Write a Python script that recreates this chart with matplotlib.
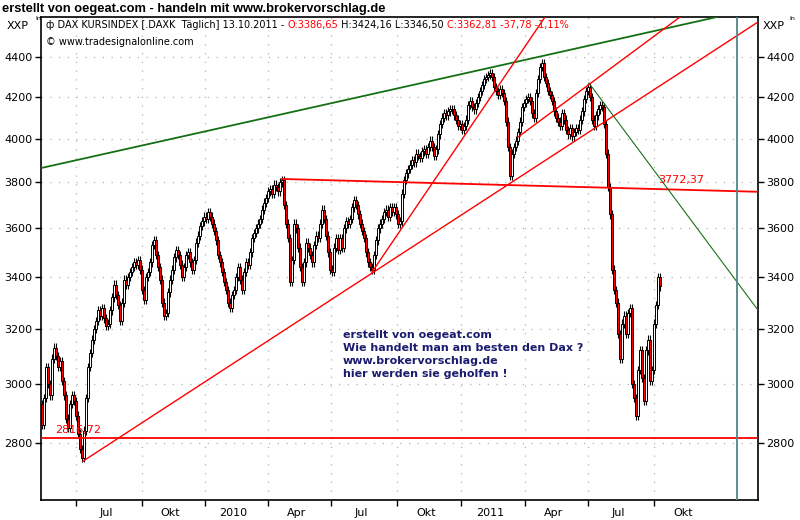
import numpy as np
import pandas as pd
import matplotlib
matplotlib.use("Agg")
import matplotlib.pyplot as plt
from matplotlib.ticker import FixedLocator, NullLocator, NullFormatter, FixedFormatter

# Schlusskurse DAX Kursindex, ein Wert je zwei Handelstage ab 14.05.2009
closes = [
    2860, 2950, 3060, 3000, 2960, 3090, 3130, 3100, 3060, 3080,
    3010, 2960, 2880, 2850, 2930, 2960, 2940, 2890, 2830, 2780,
    2750, 2840, 2950, 3060, 3110, 3160, 3200, 3230, 3270, 3250,
    3280, 3240, 3210, 3220, 3270, 3320, 3370, 3330, 3290, 3230,
    3300, 3390, 3370, 3400, 3420, 3440, 3460, 3450, 3470, 3430,
    3350, 3310, 3400, 3420, 3460, 3530, 3550, 3490, 3440, 3390,
    3300, 3250, 3260, 3340, 3390, 3430, 3480, 3510, 3490, 3450,
    3400, 3440, 3490, 3500, 3460, 3430, 3470, 3540, 3570, 3610,
    3630, 3650, 3640, 3670, 3650, 3620, 3590, 3550, 3490, 3460,
    3420, 3380, 3350, 3300, 3280, 3330, 3350, 3400, 3440, 3390,
    3350, 3420, 3460, 3450, 3500, 3560, 3580, 3600, 3620, 3640,
    3680, 3710, 3730, 3760, 3770, 3750, 3790, 3780, 3760, 3800,
    3810, 3700, 3620, 3560, 3380, 3470, 3620, 3600, 3520, 3440,
    3380, 3460, 3540, 3520, 3490, 3460, 3530, 3570, 3560, 3620,
    3680, 3640, 3570, 3500, 3430, 3420, 3520, 3560, 3510, 3560,
    3520, 3600, 3630, 3620, 3640, 3690, 3720, 3700, 3660, 3620,
    3590, 3560, 3500, 3460, 3440, 3430, 3490, 3550, 3600, 3620,
    3640, 3670, 3680, 3650, 3690, 3670, 3690, 3660, 3620, 3630,
    3750, 3810, 3840, 3860, 3880, 3900, 3890, 3930, 3920, 3910,
    3940, 3950, 3930, 3960, 3990, 3960, 3920, 3950, 4020, 4070,
    4100, 4120, 4110, 4130, 4140, 4140, 4110, 4090, 4060, 4070,
    4040, 4060, 4090, 4160, 4180, 4150, 4140, 4170, 4200, 4230,
    4260, 4290, 4300, 4310, 4320, 4300, 4250, 4230, 4210, 4240,
    4220, 4180, 4080, 3960, 3830, 3930, 3960, 3990, 4030, 4080,
    4150, 4170, 4190, 4200, 4180, 4120, 4100, 4220, 4290, 4350,
    4370, 4300, 4270, 4230, 4210, 4180, 4130, 4100, 4080, 4060,
    4120, 4090, 4040, 4020, 4050, 4010, 4030, 4050, 4040, 4090,
    4130, 4190, 4230, 4250, 4200, 4090, 4060, 4110, 4140, 4160,
    4150, 4070, 3930, 3780, 3660, 3430, 3350, 3300, 3180, 3090,
    3220, 3250, 3180, 3260, 3280, 3000, 2950, 2890, 3050, 3120,
    3020, 2940, 3120, 3160, 3010, 3050, 3220, 3290, 3400, 3363,
]
first_open = 2930
bar_step = 2
wick_pct = 0.005  # Dochtlaenge relativ zum Kurs (nur Optik)

start_date = "2009-05-14"
holidays = ["2009-12-24", "2009-12-25", "2009-12-31", "2010-01-01", "2010-04-02",
            "2010-04-05", "2010-12-24", "2010-12-31", "2011-04-22", "2011-04-25"]
quarter_starts = ["2009-07-01", "2009-10-01", "2010-01-01", "2010-04-01", "2010-07-01",
                  "2010-10-01", "2011-01-01", "2011-04-01", "2011-07-01", "2011-10-01",
                  "2012-01-01"]
quarter_labels = ["Jul", "Okt", "2010", "Apr", "Jul", "Okt", "2011", "Apr", "Jul", "Okt"]
y_ticks = [2800, 3000, 3200, 3400, 3600, 3800, 4000, 4200, 4400]

# Trendlinien als (Handelstag, Kurs)
green_line = [(-1, 3864), (675, 4613)]
red_line_a = [(41, 2740), (716, 4586)]
red_line_b = [(330, 3420), (503, 4613)]
red_line_c = [(476, 4007), (638, 4613)]
red_resist = [(240, 3815), (716, 3758)]
green_down = [(547, 4269), (716, 3271)]
support_level = 2816.72
support_text = "2816,72"
resist_text = "3772,37"
cursor_day = 695

title = "erstellt von oegeat.com - handeln mit www.brokervorschlag.de"
note = ("erstellt von oegeat.com\nWie handelt man am besten den Dax ?\n"
        "www.brokervorschlag.de\nhier werden sie geholfen !")

# ---------------------------------------------------------------
fig = plt.figure(figsize=(8, 5.2), dpi=100)
ax = fig.add_axes([41 / 800, 20 / 520, 717 / 800, 483 / 520])

closes = np.array(closes, dtype=float)
opens = np.concatenate([[first_open], closes[:-1]])
xs = np.arange(len(closes)) * bar_step
up = closes >= opens
bottom = np.minimum(opens, closes)
top = np.maximum(opens, closes)
height = top - bottom
ax.vlines(xs, bottom * (1 - wick_pct), top * (1 + wick_pct), color="black",
          lw=0.8, zorder=3)
ax.bar(xs, height, bottom=bottom, width=2.2,
       color=np.where(up, "white", "#ff0000"), edgecolor="black",
       linewidth=0.7, zorder=4)

ax.set_yscale("log")
ax.set_ylim(2618, 4613)
ax.set_xlim(-1, 716)

# Trendlinien
for (a, b), col, lw in [((green_line[0], green_line[1]), "#157015", 1.3),
                        ((red_line_a[0], red_line_a[1]), "#ff0000", 1.0),
                        ((red_line_b[0], red_line_b[1]), "#ff0000", 1.0),
                        ((red_line_c[0], red_line_c[1]), "#ff0000", 1.0),
                        ((red_resist[0], red_resist[1]), "#ff0000", 1.3),
                        ((green_down[0], green_down[1]), "#1a701a", 0.8)]:
    ax.plot([a[0], b[0]], [a[1], b[1]], color=col, lw=lw, zorder=5)
ax.axhline(support_level, color="#ff0000", lw=1.3, zorder=5)
ax.axvline(cursor_day, color="#4f8585", lw=1.3, zorder=5)
ax.text(13, support_level * 1.003, support_text, color="#ff0000", fontsize=8,
        ha="left", va="bottom", zorder=6)
ax.text(616, 3772 * 1.004, resist_text, color="#ff0000", fontsize=8,
        ha="left", va="bottom", zorder=6)

ax.text(301, 3195, note, color="#1c1c6e", fontsize=8, fontweight="bold",
        ha="left", va="top", linespacing=1.38, zorder=6)

# Achsen
days = pd.date_range(start_date, periods=900,
                     freq=pd.offsets.CustomBusinessDay(holidays=holidays))
q_idx = [int(np.searchsorted(days, pd.Timestamp(q))) for q in quarter_starts]
ax.xaxis.set_major_locator(FixedLocator(q_idx[:-1]))
ax.xaxis.set_major_formatter(NullFormatter())
mids = [(q_idx[i] + q_idx[i + 1]) / 2 - 3 for i in range(len(quarter_labels))]
ax.xaxis.set_minor_locator(FixedLocator(mids))
ax.xaxis.set_minor_formatter(FixedFormatter(quarter_labels))
ax.tick_params(axis="x", which="major", direction="out", length=4, width=1)
ax.tick_params(axis="x", which="minor", length=0, labelsize=8, pad=6)

ax.yaxis.set_major_locator(FixedLocator(y_ticks))
ax.yaxis.set_major_formatter(FixedFormatter([str(v) for v in y_ticks]))
ax.yaxis.set_minor_locator(NullLocator())
ax.yaxis.set_minor_formatter(NullFormatter())
ax.tick_params(axis="y", which="major", direction="out", length=4, width=1,
               labelsize=8, left=True, right=True, labelleft=True, labelright=True, pad=2)

ax.grid(True, which="major", color="#b4b4b4", lw=0.9, ls=(0, (1, 6)))
for s in ax.spines.values():
    s.set_linewidth(1.2)

# Texte
fig.text(2 / 800, 1 - 9 / 520, title, fontsize=9.3, fontweight="bold",
         family="Liberation Sans", ha="left", va="center")
fig.text(7 / 800, 1 - 26 / 520, "XXP", fontsize=8, ha="left", va="center")
fig.text(763 / 800, 1 - 26 / 520, "XXP", fontsize=8, ha="left", va="center")
fig.text(35 / 800, 1 - 18 / 520, "In", fontsize=4.5, ha="left", va="center")
fig.text(789 / 800, 1 - 18 / 520, "In", fontsize=4.5, ha="left", va="center")

parts = [("\u0444 DAX KURSINDEX [.DAXK  T\u00e4glich] 13.10.2011 - ", "black"),
         ("O:3386,65", "#ff0000"),
         (" H:3424,16 L:3346,50 ", "black"),
         ("C:3362,81 -37,78 -1,11%", "#ff0000")]
prev = fig.text(46 / 800, 1 - 25 / 520, parts[0][0], fontsize=7.05,
                color=parts[0][1], ha="left", va="center")
for s, c in parts[1:]:
    prev = ax.annotate(s, xy=(1, 0.5), xycoords=prev, fontsize=7.05, color=c,
                       ha="left", va="center", annotation_clip=False)
fig.text(46 / 800, 1 - 42 / 520, "\u00a9 www.tradesignalonline.com", fontsize=7.05,
         ha="left", va="center")

fig.savefig("out.png", dpi=100)
